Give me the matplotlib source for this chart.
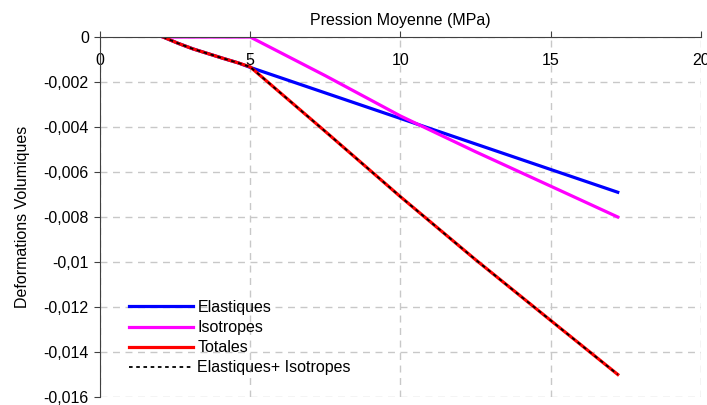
import matplotlib.pyplot as plt
from matplotlib.ticker import FuncFormatter

plt.rcParams['font.family'] = ['Liberation Sans', 'DejaVu Sans']

# data
p_tot = [2.1, 2.6, 3.1, 3.6, 4.1, 4.6, 5.0, 7.5, 10.0, 12.5, 15.0, 17.23]
e_tot = [0.0, -0.00028, -0.00053, -0.00074, -0.00095, -0.00115, -0.00133,
         -0.0042, -0.0071, -0.0099, -0.0126, -0.0150]
p_el = [2.1, 2.6, 3.1, 3.6, 4.1, 4.6, 5.0, 10.0, 17.23]
e_el = [0.0, -0.00028, -0.00053, -0.00074, -0.00095, -0.00115, -0.00135, -0.00362, -0.0069]
p_iso = [2.1, 5.0, 7.5, 10.0, 12.5, 15.0, 17.23]
e_iso = [0.0, 0.0, -0.00172, -0.00351, -0.0051, -0.00663, -0.0080]
e_sum = [a for a in e_tot]

fs = 11.5

fig = plt.figure(figsize=(7.07, 4.05), dpi=100)
ax = fig.add_axes([0.1414, 0.0198, 0.8501, 0.8888])

ax.plot(p_el, e_el, color='#0000ff', lw=2.3, label='Elastiques')
ax.plot(p_iso, e_iso, color='#ff00ff', lw=2.3, label='Isotropes')
ax.plot(p_tot, e_tot, color='#ff0000', lw=2.3, label='Totales')
ax.plot(p_tot, e_sum, color='black', lw=1.3, ls=(0, (2, 2)),
        label='Elastiques+ Isotropes')

ax.set_xlim(0, 20)
ax.set_ylim(-0.016, 0)
ax.set_xticks([0, 5, 10, 15, 20])
ax.set_yticks([0, -0.002, -0.004, -0.006, -0.008, -0.01, -0.012, -0.014, -0.016])
ax.yaxis.set_major_formatter(FuncFormatter(lambda v, _: '0' if v == 0 else ('%g' % v).replace('.', ',')))

ax.xaxis.tick_top()
ax.xaxis.set_label_position('top')
ax.tick_params(axis='x', direction='out', length=4, pad=-26, labelsize=fs, color='#404040')
ax.tick_params(axis='y', direction='out', length=4, pad=4, labelsize=fs, color='#404040')
ax.set_xlabel('Pression Moyenne (MPa)', fontsize=fs, labelpad=5)
ax.set_ylabel('Deformations Volumiques', fontsize=fs, labelpad=10)

ax.grid(True, color='#c8c8c8', ls=(0, (5, 4)), lw=1)
for s in ['right', 'bottom']:
    ax.spines[s].set_visible(False)
for s in ['left', 'top']:
    ax.spines[s].set_color('#404040')

ax.legend(loc='lower left', bbox_to_anchor=(0.025, 0.02), frameon=False, fontsize=fs,
          handlelength=4.0, labelspacing=0.32, handletextpad=0.25)

fig.savefig('out.png', dpi=100)
